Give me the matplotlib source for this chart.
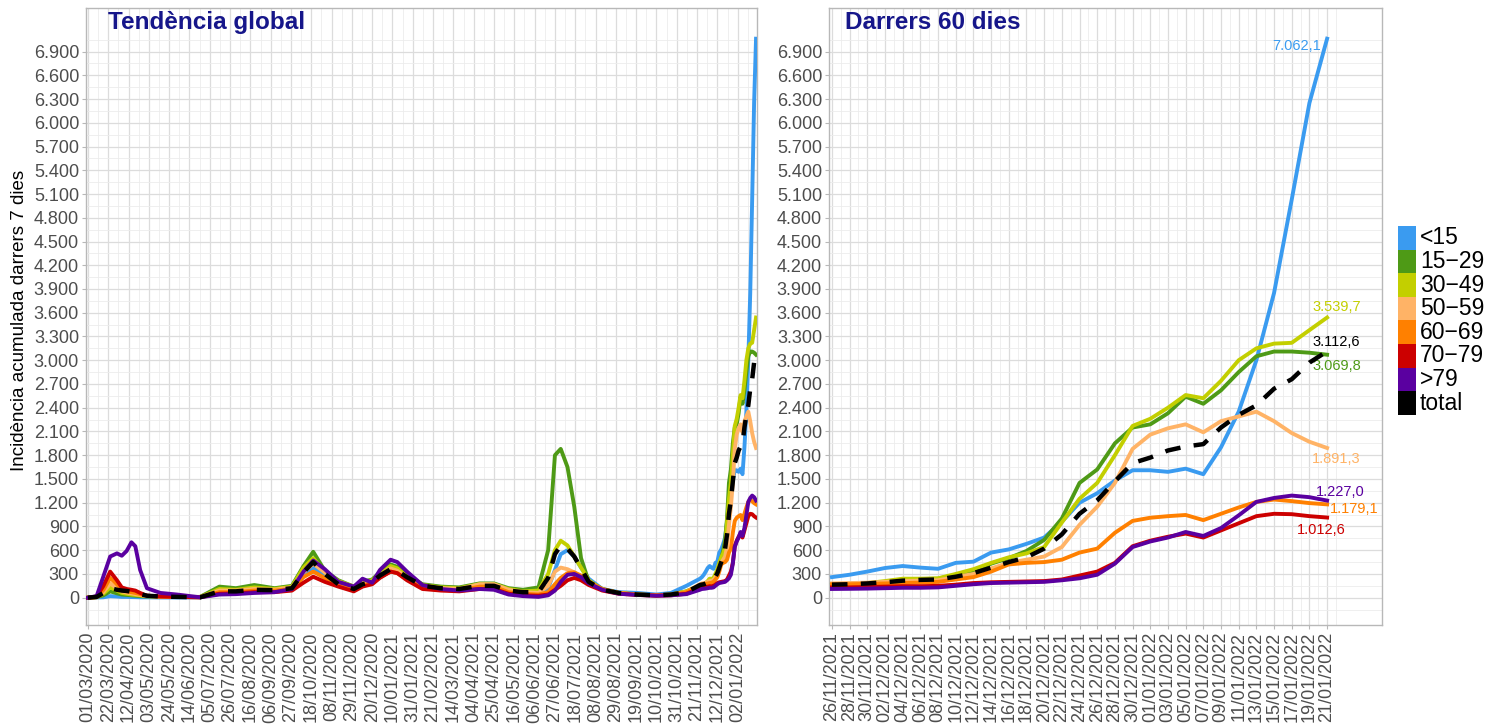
import matplotlib
matplotlib.use("Agg")
import matplotlib.pyplot as plt
import numpy as np
import pandas as pd
from matplotlib.patches import Rectangle
from matplotlib.ticker import MultipleLocator, FuncFormatter

plt.rcParams['font.family'] = ['Liberation Sans', 'DejaVu Sans']

groups = ['<15', '15\u221229', '30\u221249', '50\u221259', '60\u221269', '70\u221279', '>79', 'total']
colors = ['#3a9bf0', '#4e9a16', '#c3cf00', '#ffb366', '#ff8000', '#cc0000', '#5a00a0', '#000000']

# --- historical values (left panel, before the last 60 days) ---
hist_dates = pd.to_datetime([
    '2020-03-01', '2020-03-10', '2020-03-17', '2020-03-24', '2020-03-31', '2020-04-05',
    '2020-04-10', '2020-04-15', '2020-04-19', '2020-04-24', '2020-05-01', '2020-05-15',
    '2020-06-01', '2020-06-25', '2020-07-15', '2020-08-01', '2020-08-20', '2020-09-10',
    '2020-09-28', '2020-10-10', '2020-10-20', '2020-11-01', '2020-11-15', '2020-12-01',
    '2020-12-10', '2020-12-20', '2020-12-28', '2021-01-08', '2021-01-15', '2021-01-25',
    '2021-02-10', '2021-03-01', '2021-03-20', '2021-04-10', '2021-04-25', '2021-05-10',
    '2021-05-25', '2021-06-10', '2021-06-20', '2021-06-27', '2021-07-03', '2021-07-10',
    '2021-07-17', '2021-07-24', '2021-08-01', '2021-08-15', '2021-09-01', '2021-09-20',
    '2021-10-10', '2021-10-25', '2021-11-10', '2021-11-24'])

hist_lt15 = [0, 3, 5, 20, 15, 10, 10, 8, 7, 5, 5, 3, 3, 3, 60, 60, 80, 100, 120, 280,
             380, 280, 180, 120, 170, 220, 260, 330, 320, 250, 150, 110, 100, 120, 130, 80,
             60, 50, 120, 350, 550, 600, 520, 380, 240, 110, 70, 60, 40, 60, 150, 240]
hist_15_29 = [0, 8, 30, 80, 55, 40, 35, 30, 25, 20, 15, 10, 10, 10, 140, 120, 160, 120, 150, 400,
              580, 340, 220, 140, 200, 230, 320, 420, 390, 280, 170, 140, 130, 180, 180, 120,
              100, 130, 600, 1800, 1880, 1650, 1150, 500, 200, 110, 60, 40, 30, 40, 80, 150]
hist_30_49 = [0, 6, 50, 130, 90, 60, 50, 40, 35, 30, 20, 15, 10, 8, 110, 100, 130, 110, 140, 380,
              500, 320, 210, 140, 200, 220, 300, 400, 370, 270, 160, 130, 120, 170, 170, 110,
              80, 90, 300, 600, 720, 660, 520, 380, 220, 100, 60, 40, 30, 40, 80, 160]
hist_50_59 = [0, 6, 70, 180, 120, 80, 65, 55, 45, 35, 20, 15, 10, 5, 90, 90, 110, 100, 130, 320,
              430, 320, 200, 130, 180, 200, 280, 370, 340, 250, 150, 120, 110, 170, 170, 100,
              70, 60, 150, 330, 380, 360, 320, 260, 180, 100, 60, 40, 30, 40, 70, 170]
hist_60_69 = [0, 8, 100, 250, 170, 100, 80, 70, 60, 45, 25, 15, 10, 5, 70, 70, 90, 90, 110, 260,
              330, 250, 170, 110, 160, 180, 260, 330, 310, 230, 130, 100, 90, 140, 140, 70,
              50, 40, 70, 170, 250, 310, 320, 280, 200, 110, 60, 40, 30, 35, 70, 160]
hist_70_79 = [0, 15, 150, 330, 220, 130, 110, 100, 90, 60, 25, 15, 10, 5, 50, 55, 70, 70, 90, 190,
              265, 200, 140, 80, 140, 170, 250, 330, 310, 220, 110, 90, 80, 110, 110, 50,
              30, 25, 40, 100, 150, 220, 250, 220, 160, 90, 50, 35, 25, 30, 50, 120]
hist_gt79 = [0, 20, 270, 520, 560, 530, 590, 700, 650, 350, 120, 60, 40, 5, 40, 45, 60, 70, 110, 330,
             470, 360, 200, 140, 240, 190, 350, 480, 450, 330, 160, 110, 90, 110, 100, 40,
             20, 10, 30, 90, 200, 290, 300, 260, 180, 100, 50, 35, 25, 30, 45, 100]
hist_total = [0, 10, 60, 120, 100, 90, 85, 75, 65, 45, 25, 15, 10, 5, 80, 80, 100, 95, 120, 320,
              450, 300, 170, 110, 170, 200, 280, 360, 340, 260, 150, 120, 110, 150, 150, 90,
              70, 70, 250, 550, 660, 620, 520, 370, 200, 100, 60, 40, 30, 40, 70, 160]

# --- last 60 days (right panel), every 2 days ---
recent_dates = pd.date_range('2021-11-26', '2022-01-21', freq='2D')

recent_lt15 = [260, 290, 330, 375, 400, 380, 365, 440, 455, 570, 610, 680, 760, 960, 1200,
               1320, 1480, 1610, 1610, 1590, 1630, 1560, 1900, 2350, 3000, 3850, 5030, 6250, 7062.1]
recent_15_29 = [160, 170, 180, 200, 230, 235, 240, 290, 330, 430, 500, 590, 730, 1000, 1450,
                1620, 1950, 2150, 2190, 2330, 2540, 2450, 2620, 2850, 3050, 3110, 3110, 3095, 3069.8]
recent_30_49 = [170, 175, 185, 210, 240, 240, 245, 300, 360, 440, 510, 560, 640, 950, 1250,
                1450, 1800, 2170, 2260, 2400, 2560, 2520, 2740, 3000, 3150, 3210, 3220, 3380, 3539.7]
recent_50_59 = [180, 185, 190, 200, 210, 215, 220, 260, 300, 370, 440, 480, 520, 640, 920,
                1150, 1450, 1880, 2060, 2140, 2190, 2090, 2230, 2290, 2350, 2230, 2080, 1970, 1891.3]
recent_60_69 = [170, 170, 175, 180, 185, 190, 200, 230, 260, 330, 420, 440, 450, 480, 570,
                620, 820, 970, 1010, 1030, 1045, 980, 1060, 1140, 1210, 1240, 1220, 1195, 1179.1]
recent_70_79 = [130, 130, 135, 140, 145, 145, 150, 165, 185, 195, 200, 205, 210, 230, 280,
                330, 440, 650, 720, 770, 810, 760, 850, 940, 1030, 1060, 1055, 1030, 1012.6]
recent_gt79 = [110, 112, 115, 120, 125, 125, 130, 150, 170, 185, 190, 195, 200, 220, 245,
               290, 430, 640, 710, 760, 830, 780, 880, 1040, 1210, 1260, 1290, 1270, 1227.0]
recent_total = [165, 170, 180, 195, 215, 225, 230, 265, 310, 380, 450, 510, 620, 800, 1060,
                1230, 1470, 1700, 1770, 1860, 1910, 1940, 2150, 2310, 2430, 2640, 2760, 2970, 3112.6]

hist_series = [hist_lt15, hist_15_29, hist_30_49, hist_50_59, hist_60_69, hist_70_79, hist_gt79, hist_total]
recent_series = [recent_lt15, recent_15_29, recent_30_49, recent_50_59, recent_60_69,
                 recent_70_79, recent_gt79, recent_total]

y_ticks = list(range(0, 7000, 300))
left_ticks = pd.date_range('2020-03-01', '2022-01-02', freq='21D')
right_ticks = pd.date_range('2021-11-26', '2022-01-21', freq='2D')

# end label offsets (pixels) for the right panel
label_offsets = [(-55, -7), (-15, -11), (-15, 11), (-15, -11), (3, -5), (-30, -12), (-11, 9), (-15, 9)]

full_dates = hist_dates.append(recent_dates)

fig = plt.figure(figsize=(14.93, 7.24), dpi=100)
ax1 = fig.add_axes([86 / 1493, 99 / 724, 671 / 1493, 617 / 724])
ax2 = fig.add_axes([829 / 1493, 99 / 724, 553 / 1493, 617 / 724])


def thousands(v, pos=None):
    return f"{int(round(v)):,}".replace(',', '.')


def style(ax, ticks, minor):
    ax.set_ylim(-345, 7450)
    ax.set_yticks(y_ticks)
    ax.set_yticks([v + 150 for v in y_ticks] + [-150], minor=True)
    ax.yaxis.set_major_formatter(FuncFormatter(thousands))
    ax.set_xticks(ticks)
    ax.set_xticklabels([d.strftime('%d/%m/%Y') for d in ticks], rotation=90)
    ax.set_xticks(minor, minor=True)
    ax.grid(which='major', color='#dcdcdc', lw=0.9)
    ax.grid(which='minor', color='#ececec', lw=0.6)
    ax.set_axisbelow(True)
    for s in ax.spines.values():
        s.set_color('#b8b8b8')
        s.set_linewidth(1)
    ax.tick_params(which='major', length=3, color='#b8b8b8', labelsize=13, labelcolor='#4d4d4d', pad=2)
    ax.tick_params(which='minor', length=0)


style(ax1, left_ticks, left_ticks + pd.Timedelta(hours=252))
style(ax2, right_ticks, right_ticks + pd.Timedelta(days=1))

for hv, rv, c in zip(hist_series, recent_series, colors):
    vals = list(hv) + list(rv)
    if c == '#000000':
        ax1.plot(full_dates, vals, color=c, lw=3.2, ls=(0, (3.5, 3)), zorder=4)
        ax2.plot(recent_dates, rv, color=c, lw=3.2, ls=(0, (3.5, 3)), zorder=4)
    else:
        ax1.plot(full_dates, vals, color=c, lw=2.8, zorder=3)
        ax2.plot(recent_dates, rv, color=c, lw=2.8, zorder=3)

ax1.set_xlim(pd.Timestamp('2020-02-28'), pd.Timestamp('2022-01-22'))
ax2.set_xlim(pd.Timestamp('2021-11-25 16:00'), pd.Timestamp('2022-01-27 05:00'))

for rv, c, (dx, dy) in zip(recent_series, colors, label_offsets):
    v = rv[-1]
    txt = f"{v:,.1f}".replace(',', ' ').replace('.', ',').replace(' ', '.')
    ax2.annotate(txt, xy=(recent_dates[-1], v), xytext=(dx, dy), textcoords='offset pixels',
                 ha='left', va='center', fontsize=10.5, color=c)

ax1.text(0.033, 0.977, 'Tendència global', transform=ax1.transAxes, fontsize=17.5,
         fontweight='bold', color='#16168a', ha='left', va='center')
ax2.text(0.029, 0.977, 'Darrers 60 dies', transform=ax2.transAxes, fontsize=17.5,
         fontweight='bold', color='#16168a', ha='left', va='center')

fig.text(20 / 1493, 1 - 320 / 724, 'Incidència acumulada darrers 7 dies', rotation=90,
         ha='center', va='center', fontsize=13.5, color='black')

# legend
key_h = 23.6
for i, (g, c) in enumerate(zip(groups, colors)):
    top = 226 + i * key_h
    fig.add_artist(Rectangle((1398 / 1493, 1 - (top + key_h) / 724), 18 / 1493, key_h / 724,
                             transform=fig.transFigure, facecolor=c, edgecolor='none'))
    fig.text(1420 / 1493, 1 - (top + key_h / 2) / 724, g, ha='left', va='center',
             fontsize=16.5, color='black')

fig.savefig('out.png', dpi=100)
